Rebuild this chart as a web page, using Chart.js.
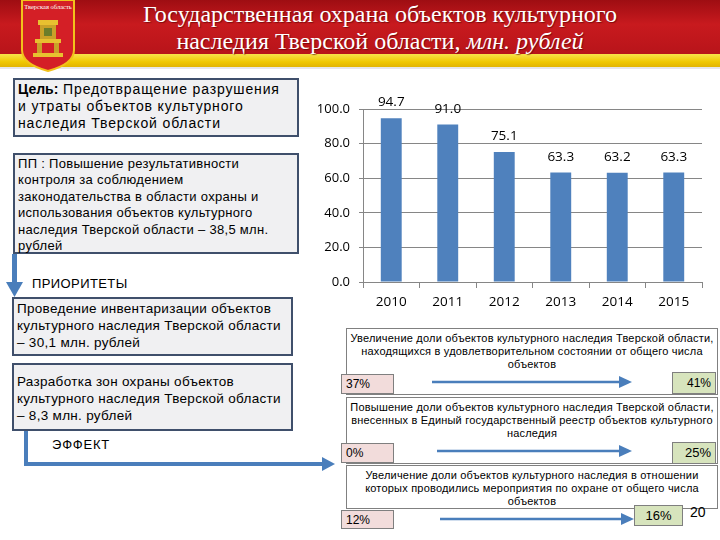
<!DOCTYPE html>
<html>
<head>
<meta charset="utf-8">
<script src="https://cdn.jsdelivr.net/npm/chart.js@4.4.0/dist/chart.umd.min.js"></script>
<style>
  html,body{margin:0;padding:0;background:#fff;}
  #slide{position:relative;width:720px;height:540px;overflow:hidden;background:#fff;font-family:"Liberation Sans",Arial,sans-serif;color:#000;}
  .abs{position:absolute;box-sizing:border-box;}
  #red{left:0;top:0;width:720px;height:54px;background:linear-gradient(#9e0d12 0%,#c81a1e 45%,#b8141a 100%);}
  #yellow{left:0;top:54px;width:720px;height:13px;background:linear-gradient(#f8e24a,#f0c800 60%,#e2b400);}
  #sep{left:0;top:67px;width:720px;height:2px;background:#e6e6e6;}
  .title{left:80px;width:600px;text-align:center;color:#fff;font-family:"Liberation Serif","Times New Roman",serif;font-size:24px;line-height:27px;white-space:nowrap;text-shadow:1px 1px 1px rgba(80,0,0,0.6);}
  .lbox{background:#f0f0f2;border:2px solid #3f4f6b;padding:1px 3px;white-space:pre;}
  .rbox{background:#fff;border:1px solid #808080;text-align:center;font-size:11px;letter-spacing:0.2px;line-height:13px;padding-top:3px;white-space:pre;}
  .pct{border:1px solid #7f7f7f;font-size:12px;line-height:18px;padding:0 4px;}
  .pink{background:#f2dcdb;}
  .green{background:#d7e4bd;}
  .blue{background:#4a7ebb;}
</style>
</head>
<body>
<div id="slide">
  <div id="red" class="abs"></div>
  <div id="yellow" class="abs"></div>
  <div id="sep" class="abs"></div>
  <svg class="abs" style="left:18px;top:0px" width="60" height="72" viewBox="0 0 60 72">
    <path d="M4 0 L56 0 L56 50 Q56 64 30 71 Q4 64 4 50 Z" fill="#d41f26" stroke="#f2c21b" stroke-width="2"/>
    <text x="30" y="9" font-size="6.5" fill="#fff" text-anchor="middle" font-family="Liberation Serif">Тверская область</text>
    <rect x="20" y="20" width="20" height="5" fill="#e8c030"/>
    <rect x="22" y="25" width="16" height="14" fill="#c9a128"/>
    <rect x="26" y="28" width="8" height="8" fill="#6b7d2a"/>
    <rect x="17" y="39" width="26" height="4" fill="#e8c030"/>
    <rect x="19" y="43" width="5" height="10" fill="#c9a128"/>
    <rect x="36" y="43" width="5" height="10" fill="#c9a128"/>
    <rect x="15" y="53" width="30" height="4" fill="#e8c030"/>
  </svg>
  <div class="abs title" style="top:1px;">Государственная охрана объектов культурного</div>
  <div class="abs title" style="top:28px;">наследия Тверской области, <i>млн. рублей</i></div>

  <div class="abs lbox" style="left:13px;top:78px;width:286px;height:59px;font-size:14px;line-height:17px;letter-spacing:0.85px;"><b style="letter-spacing:0">Цель:</b> Предотвращение разрушения
и утраты объектов культурного
наследия Тверской области</div>

  <div class="abs lbox" style="left:13px;top:153px;width:286px;height:101px;font-size:13px;line-height:16.4px;letter-spacing:0.3px;">ПП : Повышение результативности
контроля за соблюдением
законодательства в области охраны и
использования объектов культурного
наследия Тверской области – 38,5 млн.
рублей</div>

  <div class="abs blue" style="left:12px;top:254px;width:5px;height:30px;"></div>
  <svg class="abs" style="left:6px;top:282px" width="18" height="16"><path d="M0 0 L17 0 L8.5 15 Z" fill="#4a7ebb"/></svg>
  <div class="abs" style="left:32px;top:276px;font-size:13px;line-height:16px;letter-spacing:0.4px;">ПРИОРИТЕТЫ</div>

  <div class="abs lbox" style="left:12px;top:297px;width:281px;height:59px;font-size:13.5px;line-height:17px;letter-spacing:0.3px;">Проведение инвентаризации объектов
культурного наследия Тверской области
– 30,1 млн. рублей</div>

  <div class="abs lbox" style="left:12px;top:363px;width:281px;height:68px;font-size:13.5px;line-height:17px;padding-top:8px;letter-spacing:0.3px;">Разработка зон охраны объектов
культурного наследия Тверской области
– 8,3 млн. рублей</div>

  <div class="abs" style="left:52px;top:437px;font-size:13px;line-height:16px;letter-spacing:0.8px;">ЭФФЕКТ</div>
  <div class="abs blue" style="left:24px;top:431px;width:4px;height:35px;"></div>
  <div class="abs blue" style="left:24px;top:462px;width:300px;height:4px;"></div>
  <svg class="abs" style="left:322px;top:457px" width="14" height="14"><path d="M0 0 L13 7 L0 14 Z" fill="#4a7ebb"/></svg>

  <canvas id="c" class="abs" style="left:300px;top:70px;" width="415" height="250"></canvas>

  <div class="abs rbox" style="left:346px;top:328px;width:372px;height:67px;">Увеличение доли объектов культурного наследия Тверской области,
находящихся в удовлетворительном состоянии от общего числа
объектов</div>
  <div class="abs pct pink" style="left:341px;top:374px;width:53px;height:20px;">37%</div>
  <div class="abs pct green" style="left:672px;top:372px;width:44px;height:22px;line-height:20px;text-align:right;">41%</div>

  <div class="abs rbox" style="left:346px;top:397px;width:372px;height:67px;">Повышение доли объектов культурного наследия Тверской области,
внесенных в Единый государственный реестр объектов культурного
наследия</div>
  <div class="abs pct pink" style="left:341px;top:443px;width:53px;height:20px;">0%</div>
  <div class="abs pct green" style="left:672px;top:442px;width:44px;height:22px;line-height:20px;text-align:right;font-size:13px;">25%</div>

  <div class="abs rbox" style="left:346px;top:465px;width:372px;height:44px;">Увеличение доли объектов культурного наследия в отношении
которых проводились мероприятия по охране от общего числа
объектов</div>
  <div class="abs pct pink" style="left:341px;top:510px;width:53px;height:19px;">12%</div>
  <div class="abs pct green" style="left:634px;top:505px;width:49px;height:21px;line-height:19px;text-align:center;font-size:13px;">16%</div>
  <div class="abs" style="left:690px;top:504px;font-size:14px;line-height:16px;">20</div>

  <svg class="abs" style="left:0;top:0;pointer-events:none" width="720" height="540">
    <g stroke="#4a7ebb" stroke-width="2.5" fill="#4a7ebb">
      <line x1="432" y1="382" x2="622" y2="382"/>
      <path d="M619 376 L632 382 L619 388 Z" stroke="none"/>
      <line x1="437" y1="451" x2="622" y2="451"/>
      <path d="M619 445 L632 451 L619 457 Z" stroke="none"/>
      <line x1="440" y1="519" x2="624" y2="519"/>
      <path d="M621 513 L634 519 L621 525 Z" stroke="none"/>
    </g>
  </svg>
</div>
<script>
const years = ["2010","2011","2012","2013","2014","2015"];
const funding = [94.7, 91.0, 75.1, 63.3, 63.2, 63.3];
const yTicks = [0, 20, 40, 60, 80, 100];

const valueLabels = {
  id: 'valueLabels',
  afterDatasetsDraw(chart) {
    const ctx = chart.ctx;
    const meta = chart.getDatasetMeta(0);
    ctx.save();
    ctx.font = '13.5px "Open Sans", sans-serif';
    ctx.fillStyle = '#000';
    ctx.textAlign = 'center';
    ctx.textBaseline = 'bottom';
    meta.data.forEach((bar, i) => {
      ctx.fillText(funding[i].toFixed(1), bar.x, bar.y - 9);
    });
    ctx.restore();
  }
};

new Chart(document.getElementById('c'), {
  type: 'bar',
  data: {
    labels: years,
    datasets: [{
      data: funding,
      backgroundColor: '#4f81bd',
      borderWidth: 0,
      barPercentage: 0.37,
      categoryPercentage: 1.0
    }]
  },
  options: {
    responsive: false,
    animation: false,
    devicePixelRatio: 1,
    layout: { padding: { top: 39, right: 13, left: 0, bottom: 0 } },
    plugins: { legend: { display: false }, tooltip: { enabled: false } },
    scales: {
      x: {
        grid: { drawOnChartArea: false, offset: true, tickLength: 6, color: '#868686' },
        border: { color: '#868686' },
        ticks: { color: '#000', font: { family: '"Open Sans", sans-serif', size: 13.5 }, padding: 6 },
        afterFit(scale) { scale.height = 38; }
      },
      y: {
        min: 0, max: 100,
        afterBuildTicks(scale) { scale.ticks = yTicks.map(v => ({ value: v })); },
        grid: { color: '#868686', tickLength: 4 },
        border: { color: '#868686' },
        ticks: {
          color: '#000',
          font: { family: '"Open Sans", sans-serif', size: 13 },
          padding: 9,
          callback: v => Number(v).toFixed(1)
        },
        afterFit(scale) { scale.width = 63; }
      }
    }
  },
  plugins: [valueLabels]
});
</script>
</body>
</html>
